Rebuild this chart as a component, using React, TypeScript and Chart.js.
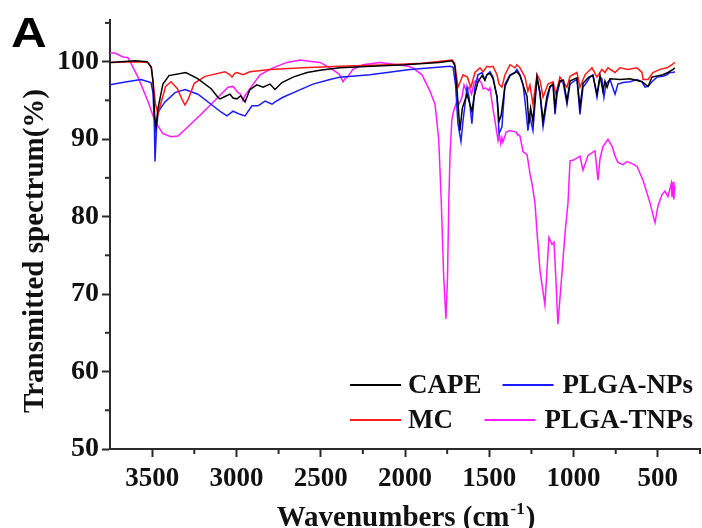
import React, { useEffect, useRef } from 'react';
import { Chart, registerables } from 'chart.js';

Chart.register(...registerables);

const SERIF = '"Liberation Serif", "Times New Roman", serif';
const SANS = '"Liberation Sans", Arial, sans-serif';
const AXIS = '#2a2a2a';
const TEXT = '#111111';

// Tick labels / positions
const xMajorTicks = [3500, 3000, 2500, 2000, 1500, 1000, 500];
const xMinorTicks = [3250, 2750, 2250, 1750, 1250, 750, 250];
const yMajorTicks = [50, 60, 70, 80, 90, 100];
const yMinorTicks = [55, 65, 75, 85, 95, 105];

const xTitle = 'Wavenumbers (cm';
const xTitleSup = '-1';
const xTitleEnd = ')';
const yTitle = 'Transmitted spectrum(%)';
const panelLetter = 'A';

// Series: [wavenumber (cm-1), transmittance (%)]
const capeData: [number, number][] = [
  [3750, 99.9], [3600, 100.1], [3530, 100.0], [3505, 99.3], [3495, 97.5], [3485, 93], [3478, 91.5],
  [3465, 94], [3436, 97.1], [3400, 98.2], [3300, 98.6], [3230, 97.8], [3150, 96.5], [3110, 95.4],
  [3097, 95.2], [3068, 95.5], [3038, 95.8], [3020, 95.3], [2997, 95.2], [2975, 95.6], [2949, 94.8],
  [2920, 96.4], [2878, 97.0], [2842, 96.7], [2801, 97.1], [2771, 96.4], [2730, 97.3], [2664, 98.0],
  [2581, 98.6], [2504, 98.9], [2386, 99.2], [2200, 99.4], [2000, 99.6], [1800, 99.9], [1720, 100.1],
  [1705, 99.5], [1690, 96], [1674, 91.1], [1660, 94], [1632, 95.8], [1615, 94.5], [1603, 93.6],
  [1590, 95.5], [1567, 97.4], [1543, 98.2], [1526, 97.6], [1514, 98.3], [1496, 98.5], [1478, 97.8],
  [1454, 95.5], [1442, 92.3], [1430, 93], [1407, 96.8], [1377, 98.2], [1336, 98.7], [1318, 98.2],
  [1300, 97], [1276, 95.5], [1265, 92.0], [1255, 94], [1241, 92.3], [1217, 98.0], [1199, 96],
  [1181, 92.3], [1158, 95.5], [1140, 96.8], [1122, 97.1], [1110, 94.1], [1098, 96.2], [1081, 97.5],
  [1060, 97.6], [1039, 94.9], [1021, 97.5], [980, 97.9], [962, 94.1], [944, 97.2], [910, 98.0],
  [885, 98.2], [861, 95.8], [843, 98.2], [826, 96.2], [814, 97.5], [801, 96.7], [784, 97.8],
  [725, 97.7], [665, 97.8], [594, 97.4], [576, 97.1], [558, 96.8], [535, 98.0], [470, 98.3],
  [440, 98.6], [410, 99.0], [399, 99.2],
];

const mcData: [number, number][] = [
  [3750, 99.9], [3600, 100.0], [3525, 99.9], [3505, 99.2], [3495, 97.5], [3480, 94.5], [3465, 93.2],
  [3450, 94.5], [3420, 96.8], [3388, 97.4], [3350, 96.5], [3320, 95.0], [3305, 94.4], [3285, 95.2],
  [3250, 97.2], [3186, 98.1], [3068, 98.7], [3038, 98.3], [3026, 98.0], [3010, 98.5], [2997, 98.6],
  [2961, 98.3], [2920, 98.7], [2801, 99.0], [2605, 99.2], [2386, 99.4], [2100, 99.6], [1900, 99.8],
  [1720, 100.2], [1705, 99.8], [1686, 96.7], [1670, 97.5], [1656, 98.3], [1630, 98.0], [1609, 96.7],
  [1585, 98.6], [1555, 99.2], [1537, 98.7], [1514, 99.4], [1496, 99.3], [1478, 99.4], [1454, 98.3],
  [1442, 97.1], [1425, 96.7], [1407, 98.3], [1377, 99.6], [1348, 99.2], [1336, 99.6], [1318, 99.2],
  [1288, 98.0], [1271, 96.2], [1259, 97.0], [1241, 94.5], [1217, 98.3], [1199, 97.6], [1181, 95.4],
  [1152, 97.1], [1122, 97.4], [1104, 95.8], [1081, 98.0], [1039, 96.7], [1021, 98.1], [980, 98.6],
  [962, 96.7], [932, 98.3], [891, 99.2], [861, 98.0], [832, 99.0], [814, 98.6], [796, 99.2],
  [754, 98.6], [725, 99.2], [677, 99.0], [624, 99.2], [594, 98.6], [588, 97.7], [558, 97.7],
  [529, 98.6], [487, 99.0], [446, 99.2], [416, 99.6], [399, 99.9],
];

const plgaNpsData: [number, number][] = [
  [3750, 97.0], [3650, 97.4], [3566, 97.7], [3507, 97.3], [3495, 96.0], [3487, 92], [3483, 87.1],
  [3475, 91], [3465, 93.5], [3424, 94.8], [3364, 96.0], [3305, 96.4], [3228, 95.8], [3151, 94.5],
  [3092, 93.5], [3056, 93.0], [3020, 93.6], [2979, 93.2], [2949, 93.0], [2908, 94.3], [2872, 94.3],
  [2830, 94.9], [2789, 94.5], [2771, 94.8], [2724, 95.4], [2641, 96.2], [2546, 97.1], [2445, 97.7],
  [2386, 98.0], [2208, 98.3], [1970, 99.0], [1733, 99.4], [1715, 99.3], [1700, 97], [1686, 92],
  [1668, 89.7], [1656, 92.3], [1632, 96.7], [1620, 95.4], [1603, 92.0], [1585, 96.7], [1567, 98.3],
  [1543, 98.6], [1526, 97.7], [1514, 98.3], [1496, 98.7], [1478, 98.0], [1454, 95.4], [1442, 90.7],
  [1425, 91.6], [1407, 97.1], [1377, 98.3], [1348, 98.6], [1336, 99.0], [1318, 98.3], [1300, 97.1],
  [1288, 94.9], [1276, 92.3], [1271, 91.1], [1259, 92.9], [1241, 91.1], [1217, 98.0], [1199, 95.8],
  [1181, 91.6], [1158, 94.9], [1140, 96.7], [1122, 97.1], [1110, 93.2], [1098, 95.8], [1081, 97.4],
  [1063, 97.4], [1039, 94.5], [1021, 97.1], [1003, 97.4], [980, 97.7], [962, 93.2], [944, 96.7],
  [920, 97.4], [903, 98.0], [885, 98.3], [861, 95.4], [843, 98.0], [832, 97.8], [820, 95.4],
  [808, 97.1], [784, 97.7], [754, 95.8], [737, 97.1], [707, 97.3], [665, 97.4], [624, 97.7],
  [594, 97.4], [576, 96.7], [558, 96.8], [535, 97.4], [505, 98.0], [470, 98.1], [446, 98.3],
  [428, 98.6], [410, 98.6], [399, 98.7],
];

const plgaTnpsData: [number, number][] = [
  [3750, 101.1], [3720, 101.1], [3673, 100.6], [3643, 100.5], [3584, 98.0], [3525, 94.9], [3483, 92.3],
  [3436, 90.7], [3388, 90.3], [3347, 90.4], [3287, 91.6], [3210, 93.2], [3109, 95.4], [3050, 96.7],
  [3020, 96.8], [2990, 96.0], [2975, 95.8], [2961, 95.0], [2950, 95.6], [2937, 96.0], [2860, 98.3],
  [2783, 99.2], [2700, 99.9], [2623, 100.2], [2546, 100.0], [2504, 99.9], [2445, 99.2], [2390, 98.4],
  [2368, 97.4], [2355, 97.8], [2338, 98.1], [2309, 99.0], [2249, 99.6], [2148, 99.9], [2047, 99.6],
  [1982, 99.4], [1953, 99.2], [1899, 98.3], [1852, 96.2], [1822, 94.5], [1800, 90], [1785, 82],
  [1770, 72], [1757, 66.8], [1748, 72], [1740, 82], [1733, 88], [1722, 92.5], [1712, 93.6],
  [1692, 94.9], [1680, 94.5], [1662, 95.4], [1650, 97.0], [1635, 96.2], [1620, 96.7], [1605, 95.8],
  [1590, 97.3], [1567, 97.8], [1545, 97.2], [1537, 96.5], [1520, 96.6], [1505, 96.3], [1496, 96.6],
  [1475, 93.5], [1460, 91.5], [1448, 89.8], [1440, 90.5], [1432, 89.4], [1425, 90.2], [1419, 89.6],
  [1400, 90.9], [1377, 91.1], [1360, 91.0], [1340, 90.9], [1336, 90.7], [1318, 90.4], [1300, 88.4],
  [1276, 88.0], [1259, 85.6], [1247, 84.3], [1229, 81.8], [1217, 78], [1199, 73], [1170, 68.6],
  [1158, 73], [1146, 77.3], [1128, 76.4], [1116, 76.7], [1105, 72], [1093, 66.1], [1075, 71],
  [1050, 78], [1033, 81.8], [1021, 87.2], [1000, 87.3], [962, 87.8], [944, 86.0], [914, 87.9],
  [873, 88.5], [855, 84.7], [843, 87.5], [826, 89.0], [796, 90.0], [770, 89.0], [754, 87.8],
  [737, 87.0], [707, 86.7], [683, 87.1], [650, 86.8], [624, 86.5], [588, 84.7], [547, 81.8],
  [517, 79.2], [499, 81.4], [476, 82.8], [458, 83.3], [440, 82.6], [428, 83.6], [420, 84.3],
  [416, 82.5], [410, 84.5], [405, 82.2], [399, 84.0],
];

const seriesLabels = ['CAPE', 'MC', 'PLGA-NPs', 'PLGA-TNPs'];
const seriesColors = ['#000000', '#ff1a1a', '#1a1aff', '#ff1aff'];
const seriesData = [capeData, mcData, plgaNpsData, plgaTnpsData];
// legend grid: [row][col] -> series index
const legendGrid = [[0, 2], [1, 3]];

const decorPlugin = {
  id: 'decor',
  afterDraw(chart: any) {
    const ctx: CanvasRenderingContext2D = chart.ctx;
    const xs = chart.scales.x;
    const ys = chart.scales.y;
    const area = chart.chartArea;
    ctx.save();
    // minor ticks
    ctx.strokeStyle = AXIS;
    ctx.lineWidth = 2;
    xMinorTicks.forEach((v) => {
      const px = xs.getPixelForValue(v);
      ctx.beginPath();
      ctx.moveTo(px, area.bottom);
      ctx.lineTo(px, area.bottom + 5);
      ctx.stroke();
    });
    yMinorTicks.forEach((v) => {
      const py = ys.getPixelForValue(v);
      ctx.beginPath();
      ctx.moveTo(area.left, py);
      ctx.lineTo(area.left - 5, py);
      ctx.stroke();
    });

    ctx.fillStyle = TEXT;
    // y title
    ctx.save();
    ctx.translate(43, 251);
    ctx.rotate(-Math.PI / 2);
    ctx.font = `bold 29px ${SERIF}`;
    ctx.textAlign = 'center';
    ctx.textBaseline = 'alphabetic';
    ctx.fillText(yTitle, 0, 0);
    ctx.restore();

    // x title with superscript
    ctx.textBaseline = 'alphabetic';
    ctx.textAlign = 'left';
    const mainFont = `bold 29px ${SERIF}`;
    const supFont = `bold 17px ${SERIF}`;
    ctx.font = mainFont;
    const w1 = ctx.measureText(xTitle).width;
    const w3 = ctx.measureText(xTitleEnd).width;
    ctx.font = supFont;
    const w2 = ctx.measureText(xTitleSup).width;
    const total = w1 + w2 + w3 + 2;
    let x0 = 406 - total / 2;
    const base = 526;
    ctx.font = mainFont;
    ctx.fillText(xTitle, x0, base);
    ctx.font = supFont;
    ctx.fillText(xTitleSup, x0 + w1 + 1, base - 12);
    ctx.font = mainFont;
    ctx.fillText(xTitleEnd, x0 + w1 + w2 + 2, base);

    // legend
    ctx.font = `bold 27px ${SERIF}`;
    ctx.textBaseline = 'middle';
    const rowsY = [385, 420];
    legendGrid.forEach((row, r) => {
      const y = rowsY[r];
      row.forEach((si, c) => {
        const ds = chart.data.datasets[si];
        const label = ds.label as string;
        const tw = ctx.measureText(label).width;
        let lineStart: number;
        let textX: number;
        if (c === 0) {
          lineStart = 350;
          textX = 408;
        } else {
          textX = 693 - tw;
          lineStart = textX - 60;
        }
        ctx.strokeStyle = ds.borderColor;
        ctx.lineWidth = 2;
        ctx.beginPath();
        ctx.moveTo(lineStart, y);
        ctx.lineTo(lineStart + 51, y);
        ctx.stroke();
        ctx.fillStyle = TEXT;
        ctx.textAlign = 'left';
        ctx.fillText(label, textX, y + 1);
      });
    });

    // panel letter
    ctx.save();
    ctx.translate(11, 47);
    ctx.scale(1.15, 1);
    ctx.font = `bold 43px ${SANS}`;
    ctx.textAlign = 'left';
    ctx.textBaseline = 'alphabetic';
    ctx.fillStyle = '#000';
    ctx.fillText(panelLetter, 0, 0);
    ctx.restore();

    ctx.restore();
  },
};

export default function App() {
  const ref = useRef<HTMLCanvasElement>(null);
  useEffect(() => {
    const canvas = ref.current;
    if (!canvas) return;
    const chart = new Chart(canvas, {
      type: 'line',
      data: {
        datasets: seriesData.map((d, i) => ({
          label: seriesLabels[i],
          data: d.map(([x, y]) => ({ x, y })),
          borderColor: seriesColors[i],
          backgroundColor: seriesColors[i],
          borderWidth: 1.5,
          pointRadius: 0,
          tension: 0,
          fill: false,
        })),
      },
      options: {
        animation: false,
        responsive: false,
        layout: { padding: { left: 0, right: 2, top: 15, bottom: 0 } },
        plugins: { legend: { display: false }, tooltip: { enabled: false }, title: { display: false } },
        scales: {
          x: {
            type: 'linear',
            reverse: true,
            min: 250,
            max: 3750,
            afterBuildTicks: (s: any) => {
              s.ticks = xMajorTicks.map((v) => ({ value: v }));
            },
            afterFit: (s: any) => {
              s.height = 79;
            },
            grid: { drawOnChartArea: false, drawTicks: true, tickLength: 8, tickWidth: 2, tickColor: AXIS },
            border: { display: true, color: AXIS, width: 2 },
            ticks: {
              autoSkip: false,
              maxRotation: 0,
              padding: 6,
              color: TEXT,
              font: { family: SERIF, size: 27, weight: 'bold' },
              callback: (v: any) => String(v),
            },
          },
          y: {
            type: 'linear',
            min: 50,
            max: 105.4,
            afterBuildTicks: (s: any) => {
              s.ticks = yMajorTicks.map((v) => ({ value: v }));
            },
            afterFit: (s: any) => {
              s.width = 110;
            },
            grid: { drawOnChartArea: false, drawTicks: true, tickLength: 8, tickWidth: 2, tickColor: AXIS },
            border: { display: true, color: AXIS, width: 2 },
            ticks: {
              autoSkip: false,
              padding: 3,
              color: TEXT,
              font: { family: SERIF, size: 28, weight: 'bold' },
              callback: (v: any) => String(v),
            },
          },
        },
      },
      plugins: [decorPlugin],
    });
    return () => chart.destroy();
  }, []);
  return (
    <div style={{ position: 'absolute', left: 0, top: 0, width: 702, height: 528, background: '#fff' }}>
      <canvas ref={ref} width={702} height={528} style={{ display: 'block', width: 702, height: 528 }} />
    </div>
  );
}
